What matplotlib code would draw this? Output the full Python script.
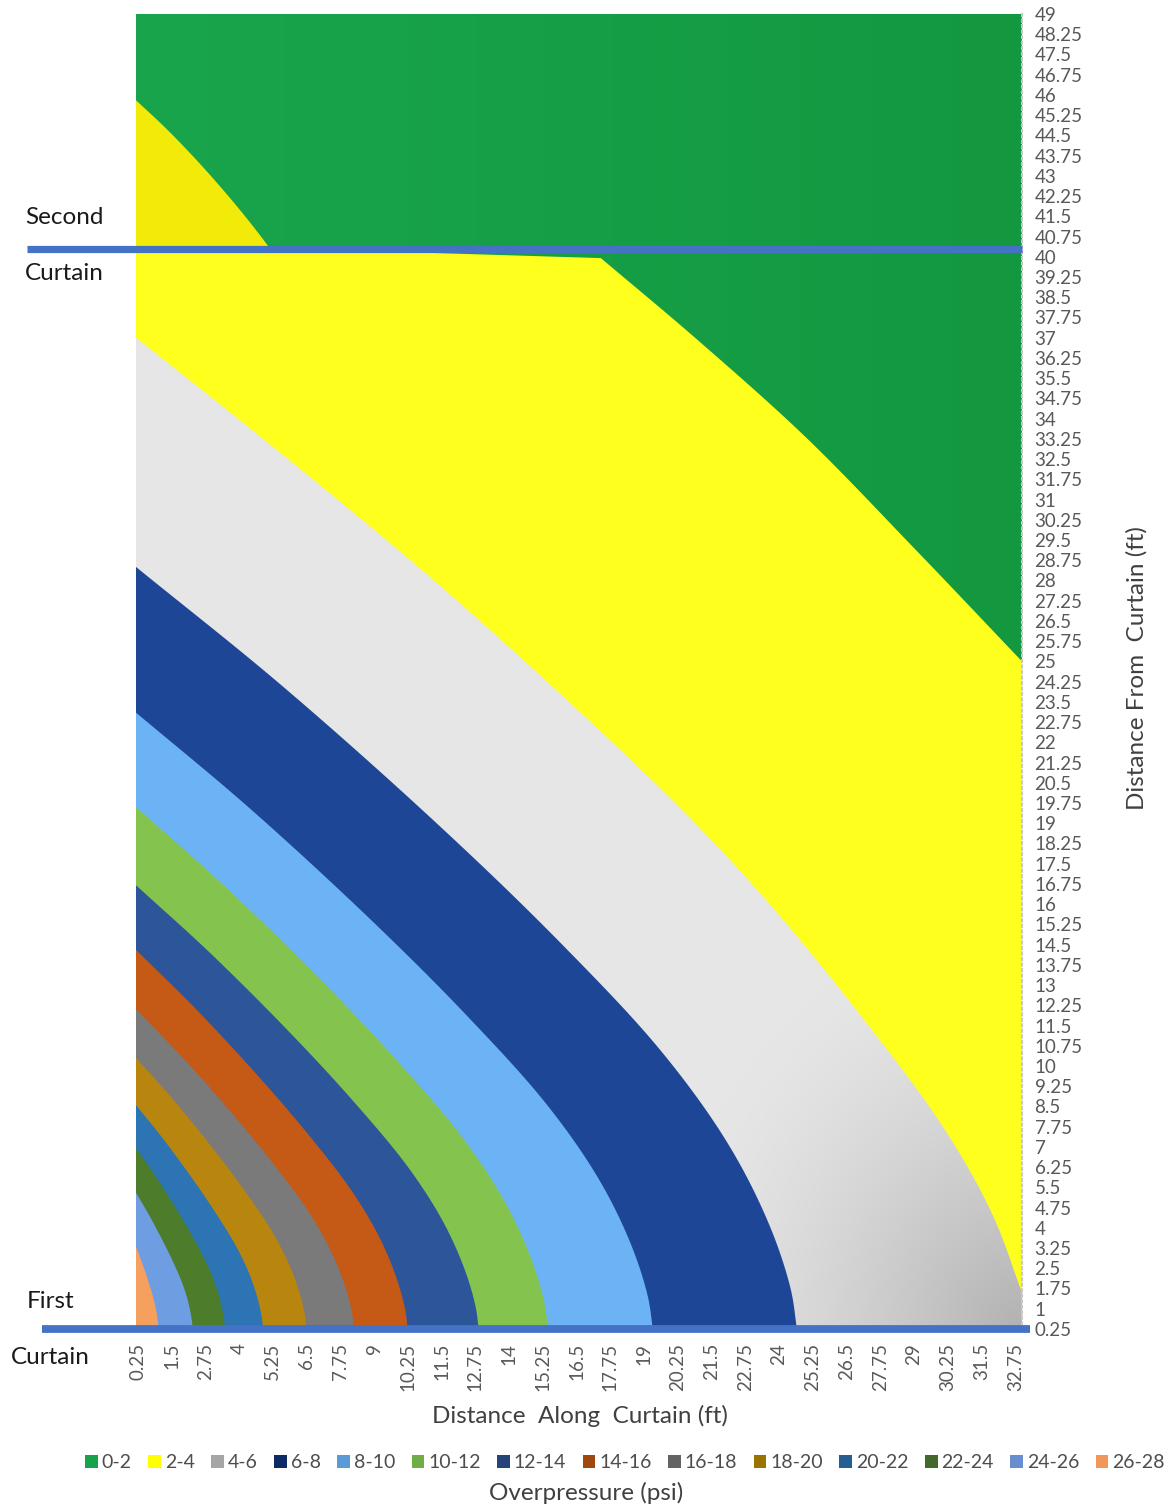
import numpy as np
import matplotlib
matplotlib.use("Agg")
import matplotlib.pyplot as plt
from matplotlib.patches import Patch, Polygon
from matplotlib.colors import to_rgb

plt.rcParams['font.family'] = ['Lato', 'DejaVu Sans']

# ---------------------------------------------------------------- data
# Overpressure bands (psi)
band_labels = ["0-2", "2-4", "4-6", "6-8", "8-10", "10-12", "12-14",
               "14-16", "16-18", "18-20", "20-22", "22-24", "24-26", "26-28"]
legend_colors = ["#16A34B", "#FFFF00", "#A5A5A5", "#0E2A66", "#5B9BD5",
                 "#70AD47", "#264478", "#9E480E", "#636363", "#997300",
                 "#255E91", "#43682B", "#698ED0", "#F1975A"]
surface_colors = ["#17A24B", "#FFFF1E", "#E3E3E3", "#1D4796", "#6CB3F5",
                  "#84C44E", "#2D5599", "#C55A17", "#7A7A7A", "#B8860F",
                  "#2C74B3", "#4D7C2B", "#6E9DE2", "#F5A05E"]

# Closed contour edges around the charge (psi level of the edge)
edge_psi = [6, 8, 10, 12, 14, 16, 18, 20, 22, 24, 26]
# where each edge meets the first curtain (ft along curtain)
edge_x_at_curtain = [24.67, 19.33, 15.45, 12.88, 10.25, 8.26, 6.50, 4.89, 3.48, 2.28, 1.01]
# where each edge meets the left side (ft from curtain)
edge_y_at_left = [28.5, 23.1, 19.6, 16.7, 14.3, 12.1, 10.3, 8.55, 6.95, 5.3, 3.3]
# normalised edge profile, left side -> first curtain
edge_shape_u = [0.0, 0.22, 0.46, 0.645, 0.795, 0.895, 0.957, 0.99, 1.0]
edge_shape_v = [1.0, 0.845, 0.66, 0.505, 0.365, 0.245, 0.14, 0.055, 0.0]

# 4 psi edge (runs out through the right side)
edge4_x = [0.18, 3.7, 7.4, 11.1, 14.8, 20.0, 23.3, 27.0, 30.1, 31.9, 33.0]
edge4_y = [37.0, 34.2, 31.2, 28.1, 24.8, 19.9, 16.4, 11.9, 7.7, 4.5, 1.6]

# 2 psi edge below the second curtain: along the curtain, then the diagonal
edge2_top_x = [0.18, 6.0, 17.4]
edge2_top_y = [40.3, 40.3, 39.95]
edge2_diag_x = [17.4, 21.0, 25.0, 29.0, 33.0]
edge2_diag_y = [39.95, 36.9, 33.3, 29.2, 25.0]

# 2 psi edge above the second curtain
edge2_upper_x = [0.18, 1.3, 2.5, 3.6, 4.5, 5.3]
edge2_upper_y = [45.8, 44.75, 43.5, 42.25, 41.15, 40.1]

# curtains (ft from first curtain)
first_curtain_y = 0.25
second_curtain_y = 40.3

x_ticks = [0.25 + 1.25 * i for i in range(27)]
y_ticks = [0.25 + 0.75 * i for i in range(66)]

X0, X1 = 0.18, 33.0
Y0, Y1 = 0.2, 49.0


def smooth(xs, ys, n=30):
    """Centripetal Catmull-Rom curve through the given points."""
    P = np.column_stack([xs, ys]).astype(float)
    P = np.vstack([2 * P[0] - P[1], P, 2 * P[-1] - P[-2]])
    out = []
    for i in range(1, len(P) - 2):
        p0, p1, p2, p3 = P[i - 1], P[i], P[i + 1], P[i + 2]
        t0 = 0.0
        t1 = t0 + max(np.linalg.norm(p1 - p0), 1e-6) ** 0.5
        t2 = t1 + max(np.linalg.norm(p2 - p1), 1e-6) ** 0.5
        t3 = t2 + max(np.linalg.norm(p3 - p2), 1e-6) ** 0.5
        t = np.linspace(t1, t2, n, endpoint=False)[:, None]
        a1 = (t1 - t) / (t1 - t0) * p0 + (t - t0) / (t1 - t0) * p1
        a2 = (t2 - t) / (t2 - t1) * p1 + (t - t1) / (t2 - t1) * p2
        a3 = (t3 - t) / (t3 - t2) * p2 + (t - t2) / (t3 - t2) * p3
        b1 = (t2 - t) / (t2 - t0) * a1 + (t - t0) / (t2 - t0) * a2
        b2 = (t3 - t) / (t3 - t1) * a2 + (t - t1) / (t3 - t1) * a3
        out.append((t2 - t) / (t2 - t1) * b1 + (t - t1) / (t2 - t1) * b2)
    out.append(P[-2][None, :])
    c = np.vstack(out)
    return c[:, 0], c[:, 1]


# ---------------------------------------------------------------- figure
fig = plt.figure(figsize=(11.76, 15.09), dpi=100)
ax = fig.add_axes([136 / 1176, 1 - 1330.3 / 1509, 886 / 1176, (1330.3 - 14) / 1509])
ax.set_xlim(X0, X1)
ax.set_ylim(Y0, Y1)

# 0-2 psi everywhere outside the 2 psi edges, slightly darker to the right
gxs = np.linspace(0, 1, 200)
g0, g1 = np.array(to_rgb("#19A54C")), np.array(to_rgb("#139840"))
green_img = (g0[None, :] * (1 - gxs[:, None]) + g1[None, :] * gxs[:, None])[None, :, :]
ax.imshow(green_img, extent=[X0, X1, Y0, Y1], aspect="auto", zorder=0,
          interpolation="bilinear")

# 2-4 psi above the second curtain
ux, uy = smooth(edge2_upper_x, edge2_upper_y)
ax.fill(np.r_[X0, ux], np.r_[second_curtain_y, uy], color="#F2EA08", lw=0, zorder=1)

# 2-4 psi below the second curtain
dx, dy = smooth(edge2_diag_x, edge2_diag_y)
ax.fill(np.r_[X0, edge2_top_x, dx, X1], np.r_[Y0, edge2_top_y, dy, Y0],
        color=surface_colors[1], lw=0, zorder=1)

# 4-6 psi, shaded darker towards the lower right corner
gx, gy = smooth(edge4_x, edge4_y)
gray_poly = Polygon(np.column_stack([np.r_[X0, gx, X1], np.r_[Y0, gy, Y0]]),
                    closed=True, facecolor="none", edgecolor="none")
ax.add_patch(gray_poly)
xx, yy = np.meshgrid(np.linspace(X0, X1, 300), np.linspace(Y0, Y1, 300))
d = np.hypot(xx - X1, (yy - Y0) / 1.15)
w = np.clip(1 - d / 13.0, 0, 1) ** 1.4
c_lo, c_hi = np.array(to_rgb("#E6E6E6")), np.array(to_rgb("#B2B2B2"))
gray_img = c_lo[None, None, :] * (1 - w[..., None]) + c_hi[None, None, :] * w[..., None]
im = ax.imshow(gray_img, extent=[X0, X1, Y0, Y1], origin="lower", aspect="auto",
               zorder=2, interpolation="bilinear")
im.set_clip_path(gray_poly)

# closed bands, outermost first
su = np.array(edge_shape_u)
sv = np.array(edge_shape_v)
for k, (xa, yb) in enumerate(zip(edge_x_at_curtain, edge_y_at_left)):
    ex = X0 + su * (xa - X0)
    ey = Y0 + sv * (yb - Y0)
    cx, cy = smooth(ex, ey)
    ax.fill(np.r_[X0, cx], np.r_[Y0, cy], color=surface_colors[3 + k], lw=0,
            zorder=3 + k)

# curtains
ax.plot([-3.85, 33.0], [second_curtain_y, second_curtain_y], color="#4472C4",
        lw=5.2, solid_capstyle="butt", clip_on=False, zorder=20)
ax.plot([-3.3, 33.3], [first_curtain_y, first_curtain_y], color="#4472C4",
        lw=5.6, solid_capstyle="butt", clip_on=False, zorder=20)

# axes
for s in ["top", "left", "bottom"]:
    ax.spines[s].set_visible(False)
ax.spines["right"].set_color("#C8C8C8")
ax.spines["right"].set_linestyle(":")
ax.spines["right"].set_linewidth(1.5)

ax.set_xticks(x_ticks)
ax.set_xticklabels([f"{v:g}" for v in x_ticks], rotation=90, fontsize=13.5,
                   color="#595959")
ax.yaxis.tick_right()
ax.set_yticks(y_ticks)
ax.set_yticklabels([f"{v:g}" for v in y_ticks], fontsize=13.5, color="#595959")
ax.tick_params(axis="x", length=0, pad=9)
ax.tick_params(axis="y", length=0, pad=9)

fig.text(580 / 1176, 1 - 1416 / 1509, "Distance  Along  Curtain (ft)",
         ha="center", va="center", fontsize=17.5, color="#404040")
fig.text(1137 / 1176, 1 - 668 / 1509, "Distance From  Curtain (ft)",
         ha="center", va="center", rotation=90, fontsize=17.5, color="#404040")

fig.text(25 / 1176, 1 - 217 / 1509, "Second", ha="left", va="center",
         fontsize=17.5, color="#1A1A1A")
fig.text(25 / 1176, 1 - 273 / 1509, "Curtain", ha="left", va="center",
         fontsize=17.5, color="#1A1A1A")
fig.text(27 / 1176, 1 - 1301 / 1509, "First", ha="left", va="center",
         fontsize=17.5, color="#1A1A1A")
fig.text(11 / 1176, 1 - 1357 / 1509, "Curtain", ha="left", va="center",
         fontsize=17.5, color="#1A1A1A")

handles = [Patch(facecolor=c, edgecolor="none") for c in legend_colors]
fig.legend(handles, band_labels, loc="center", ncol=len(band_labels),
           bbox_to_anchor=(625 / 1176, 1 - 1463 / 1509), frameon=False,
           fontsize=14, handlelength=0.65, handleheight=0.65,
           handletextpad=0.2, columnspacing=0.85, labelcolor="#4D4D4D")
fig.text(586 / 1176, 1 - 1493 / 1509, "Overpressure (psi)", ha="center",
         va="center", fontsize=17.5, color="#404040")

fig.savefig("out.png", dpi=100)
